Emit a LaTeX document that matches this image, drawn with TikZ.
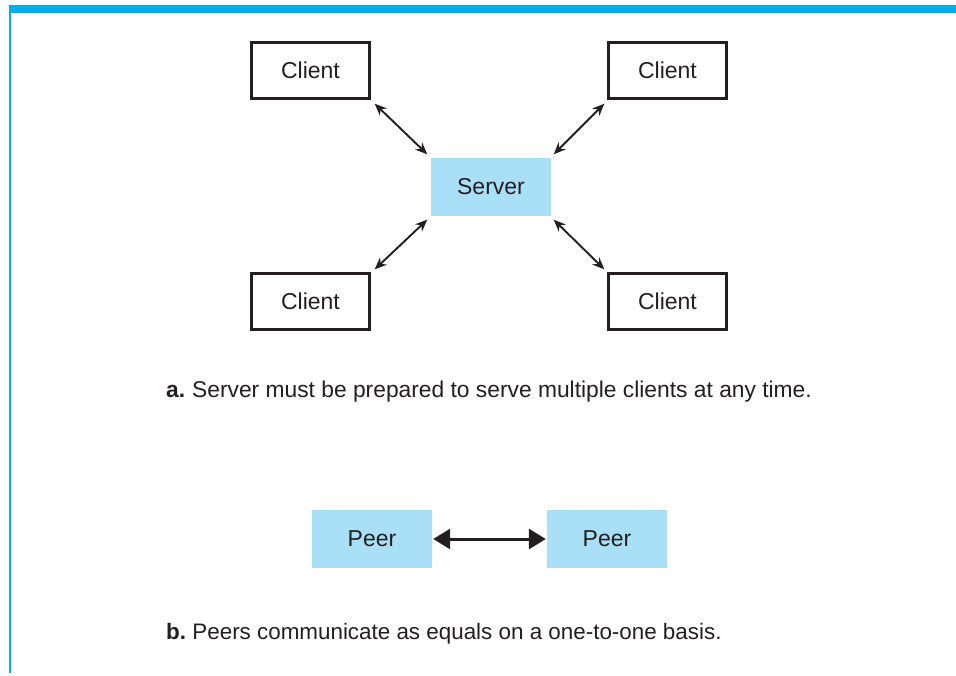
\documentclass[tikz,border=0pt]{standalone}
\usepackage{fontspec}
\setmainfont{Liberation Sans}
\usetikzlibrary{arrows.meta}
\definecolor{barblue}{HTML}{00AEEF}
\definecolor{boxblue}{HTML}{A9E0F8}
\definecolor{ink}{HTML}{231F20}
\begin{document}
\begin{tikzpicture}[x=1pt,y=-1pt,
  client/.style={draw=ink,line width=2.8pt,minimum width=118pt,minimum height=56pt,inner sep=0pt,font=\fontsize{23}{26}\selectfont,text=ink},
  blue/.style={fill=boxblue,minimum width=120pt,minimum height=58pt,inner sep=0pt,font=\fontsize{23}{26}\selectfont,text=ink},
  link/.style={draw=ink,line width=1.9pt,{Stealth[length=12pt,width=10pt]}-{Stealth[length=12pt,width=10pt]},shorten >=1pt,shorten <=1pt},
  caption/.style={anchor=west,inner sep=0pt,font=\fontsize{22.8}{26}\selectfont,text=ink}]
\useasboundingbox (0,0) rectangle (956,675);
\fill[barblue] (9,5) rectangle (956,13);
\fill[barblue] (9,13) rectangle (10.5,673);
\node[client] (c1) at (310.5,70.5) {Client};
\node[client] (c2) at (667.5,70.5) {Client};
\node[client] (c3) at (310.5,301.5) {Client};
\node[client] (c4) at (667.5,301.5) {Client};
\node[blue] (s) at (491,187) {Server};
\coordinate (t1) at (374,103); \coordinate (u1) at (428,155);
\coordinate (t2) at (605,103); \coordinate (u2) at (553,155);
\coordinate (t3) at (374,270); \coordinate (u3) at (428,219);
\coordinate (t4) at (605,270); \coordinate (u4) at (553,219);
\draw[link] (t1) -- (u1);
\draw[link] (t2) -- (u2);
\draw[link] (t3) -- (u3);
\draw[link] (t4) -- (u4);
\node[caption] (ca) at (166,391.5) {\textbf{a.}\hspace{-1.5pt} Server must be prepared to serve multiple clients at any time.};
\node[blue] (p1) at (372,539) {Peer};
\node[blue] (p2) at (607,539) {Peer};
\draw[draw=ink,line width=3pt,{Triangle[length=17pt,width=20pt]}-{Triangle[length=17pt,width=20pt]},shorten >=1pt,shorten <=1pt] (p1.east) -- (p2.west);
\node[caption,font=\fontsize{22.4}{26}\selectfont] (cb) at (166,633.5) {\textbf{b.}\hspace{-2pt} Peers communicate as equals on a one-to-one basis.};
\end{tikzpicture}
\end{document}
